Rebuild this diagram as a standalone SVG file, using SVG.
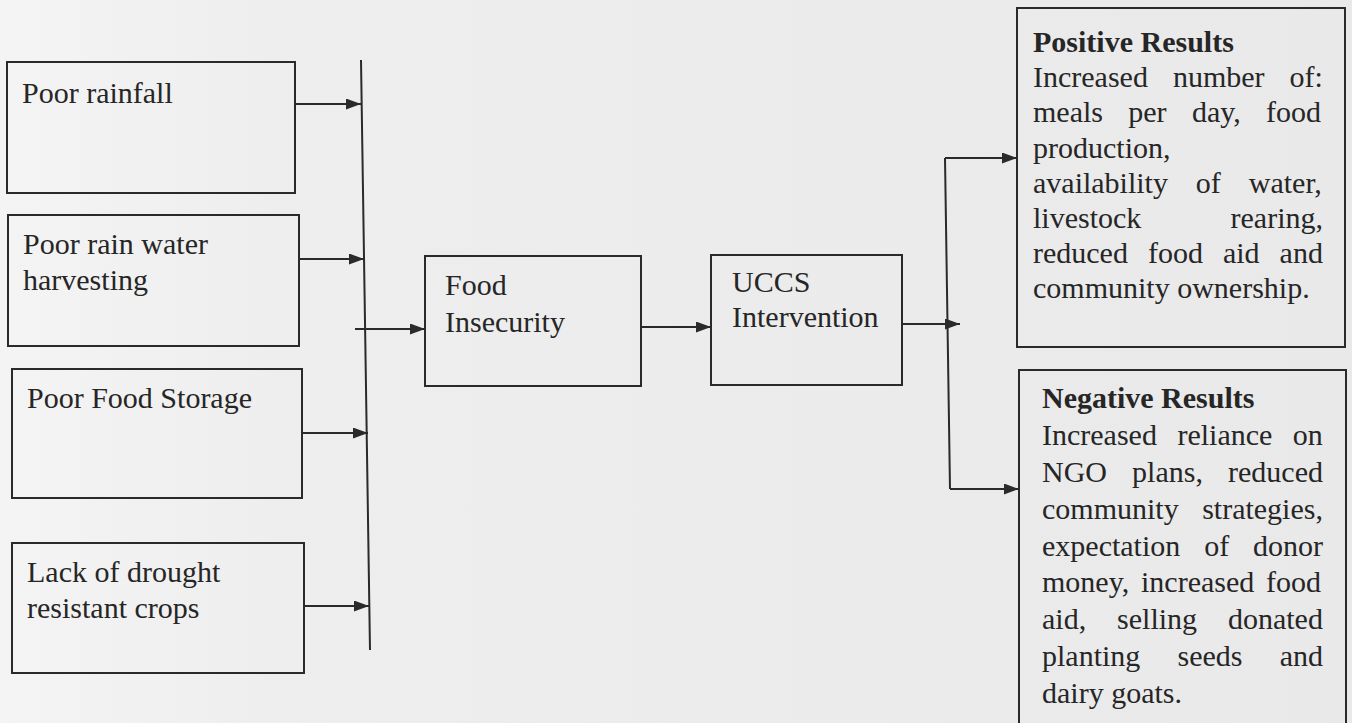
<svg xmlns="http://www.w3.org/2000/svg" width="1352" height="723" viewBox="0 0 1352 723">
<defs>
<linearGradient id="bg" x1="0" y1="0" x2="1" y2="0">
<stop offset="0" stop-color="#f4f4f4"/>
<stop offset="0.2" stop-color="#eeeeee"/>
<stop offset="1" stop-color="#e9e9e9"/>
</linearGradient>
<marker id="ah" markerUnits="userSpaceOnUse" markerWidth="15" markerHeight="11" refX="15" refY="5.5" orient="auto">
<path d="M0,0 L15,5.5 L0,11 z" fill="#2a2a2a"/>
</marker>
<style>
.box{fill:none;stroke:#2a2a2a;stroke-width:2}
.t{font-family:"Liberation Serif","Times New Roman",serif;font-size:30px;fill:#262626}
.b{font-weight:bold}
.c{fill:none;stroke:#2a2a2a;stroke-width:2}
.a{marker-end:url(#ah)}
</style>
</defs>
<rect x="0" y="0" width="1352" height="723" fill="url(#bg)"/>

<g id="connectors">
<line class="c" x1="361" y1="60" x2="370" y2="650"/>
<line class="c a" x1="295" y1="104" x2="361" y2="104"/>
<line class="c a" x1="298" y1="259" x2="364" y2="259"/>
<line class="c a" x1="302" y1="433" x2="368" y2="433"/>
<line class="c a" x1="304" y1="606" x2="369" y2="606"/>
<line class="c a" x1="355" y1="329" x2="425" y2="329"/>
<line class="c a" x1="641" y1="327" x2="711" y2="327"/>
<line class="c a" x1="902" y1="324" x2="960" y2="324"/>
<line class="c" x1="945" y1="158" x2="950" y2="489"/>
<line class="c a" x1="945" y1="158" x2="1017" y2="158"/>
<line class="c a" x1="950" y1="489" x2="1019" y2="489"/>
</g>

<g id="poor-rainfall">
<rect class="box" x="7" y="62" width="288" height="131"/>
<text class="t" x="22" y="103">Poor rainfall</text>
</g>

<g id="poor-rain-water-harvesting">
<rect class="box" x="8" y="215" width="291" height="131"/>
<text class="t" x="23" y="254">Poor rain water</text>
<text class="t" x="23" y="290">harvesting</text>
</g>

<g id="poor-food-storage">
<rect class="box" x="12" y="369" width="290" height="129"/>
<text class="t" x="27" y="408">Poor Food Storage</text>
</g>

<g id="lack-of-drought-resistant-crops">
<rect class="box" x="12" y="543" width="292" height="130"/>
<text class="t" x="27" y="582">Lack of drought</text>
<text class="t" x="27" y="618">resistant crops</text>
</g>

<g id="food-insecurity">
<rect class="box" x="425" y="256" width="216" height="130"/>
<text class="t" x="445" y="295">Food</text>
<text class="t" x="445" y="332">Insecurity</text>
</g>

<g id="uccs-intervention">
<rect class="box" x="711" y="255" width="191" height="130"/>
<text class="t" x="732" y="292">UCCS</text>
<text class="t" x="732" y="327">Intervention</text>
</g>

<g id="positive-results">
<rect class="box" x="1017" y="8" width="328" height="339"/>
<text class="t b" x="1033" y="52">Positive Results</text>
<text class="t" x="1033" y="87" word-spacing="17.5">Increased number of:</text>
<text class="t" x="1033" y="122" word-spacing="17.8">meals per day, food</text>
<text class="t" x="1033" y="158">production,</text>
<text class="t" x="1033" y="193" word-spacing="20.4">availability of water,</text>
<text class="t" x="1033" y="228">livestock</text>
<text class="t" x="1323" y="228" text-anchor="end">rearing,</text>
<text class="t" x="1033" y="263" word-spacing="12.5">reduced food aid and</text>
<text class="t" x="1033" y="298">community ownership.</text>
</g>

<g id="negative-results">
<rect class="box" x="1019" y="370" width="327" height="362"/>
<text class="t b" x="1042" y="408">Negative Results</text>
<text class="t" x="1042" y="445" word-spacing="13">Increased reliance on</text>
<text class="t" x="1042" y="482" word-spacing="17.6">NGO plans, reduced</text>
<text class="t" x="1042" y="519" word-spacing="16">community strategies,</text>
<text class="t" x="1042" y="556" word-spacing="16.4">expectation of donor</text>
<text class="t" x="1042" y="592" word-spacing="4.3">money, increased food</text>
<text class="t" x="1042" y="629" word-spacing="23.4">aid, selling donated</text>
<text class="t" x="1042" y="666" word-spacing="29.7">planting seeds and</text>
<text class="t" x="1042" y="703">dairy goats.</text>
</g>
</svg>
